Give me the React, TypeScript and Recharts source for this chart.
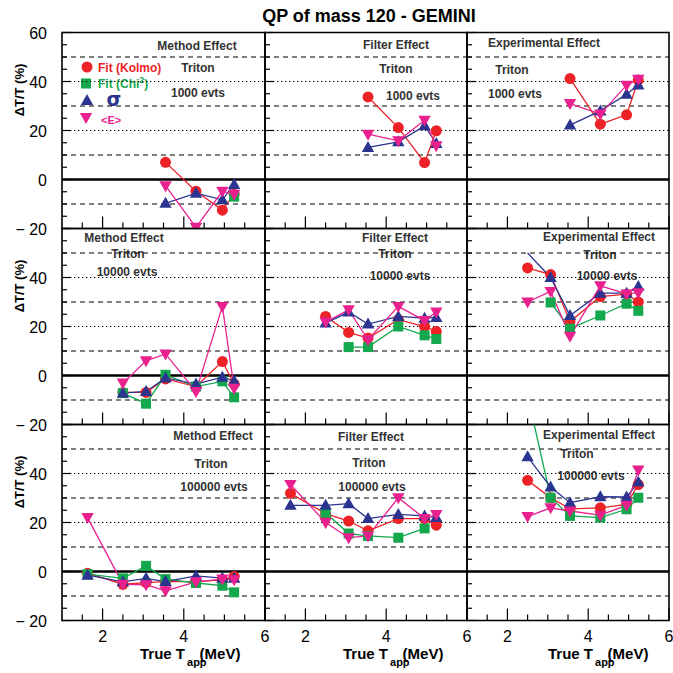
import React from 'react';
import { LineChart, Line, XAxis, YAxis, ReferenceLine, ReferenceArea } from 'recharts';

// ---------- data ----------
const tApp = [1.63, 2.5, 3.07, 3.55, 4.3, 4.95, 5.24];
const xTicks = [1.5, 2, 2.5, 3, 3.5, 4, 4.5, 5, 5.5, 6];
const xTickLabels = [2, 4, 6];
const yTicks = [-20, -15, -10, -5, 0, 5, 10, 15, 20, 25, 30, 35, 40, 45, 50, 55, 60];
const yLabelsTop = [60, 40, 20, 0, -20];
const yLabelsLower = [40, 20, 0, -20];
const dashedLevels = [50, 30, 10, -10];
const dottedLevels = [40, 20];

// 1000 evts
const method1kKolmo = [null, null, null, 7.0, -4.8, -12.5, -6.0];
const method1kChi2 = [null, null, null, null, null, null, -7.0];
const method1kSigma = [null, null, null, -9.7, -5.6, -8.3, -2.0];
const method1kMeanE = [null, null, null, -2.5, -19.5, -4.8, -6.0];

const filter1kKolmo = [null, null, null, 33.7, 21.2, 6.9, 19.9];
const filter1kChi2 = [null, null, null, null, null, null, null];
const filter1kSigma = [null, null, null, 13.1, 15.4, 21.9, 14.7];
const filter1kMeanE = [null, null, null, 18.5, 15.8, 24.2, 13.8];

const exp1kKolmo = [null, null, null, 41.2, 22.6, 26.4, 40.6];
const exp1kChi2 = [null, null, null, null, null, null, null];
const exp1kSigma = [null, null, null, 22.2, 28.0, 34.8, 38.6];
const exp1kMeanE = [null, null, null, 31.0, 26.7, 38.5, 40.9];

// 10000 evts
const method10kKolmo = [null, -6.9, -6.9, -1.4, -4.5, 5.7, -3.5];
const method10kChi2 = [null, -7.2, -11.5, 0.3, -4.5, -2.4, -8.9];
const method10kSigma = [null, -7.2, -6.5, -1.0, -3.5, -0.7, -2.2];
const method10kMeanE = [null, -3.1, 6.0, 8.8, -6.5, 28.2, -5.2];

const filter10kKolmo = [null, 24.1, 17.6, 15.3, 22.8, 20.0, 18.0];
const filter10kChi2 = [null, null, 11.6, 11.6, 20.0, 16.4, 14.9];
const filter10kSigma = [null, 21.4, 25.9, 21.0, 24.1, 23.4, 23.7];
const filter10kMeanE = [null, 21.8, 26.8, 14.6, 28.2, 22.4, 25.9];

const exp10kKolmo = [null, 43.9, 41.2, 22.0, 32.2, 33.2, 30.0];
const exp10kChi2 = [null, null, 29.8, 19.1, 24.5, 29.3, 26.4];
const exp10kSigma = [null, 50.0, 40.0, 24.5, 33.6, 33.6, 36.3];
const exp10kSigmaNoMarker = [1];
const exp10kMeanE = [null, 30.0, 34.3, 16.0, 36.6, 33.3, 33.8];

// 100000 evts
const method100kKolmo = [-0.7, -5.2, -4.5, -4.1, -4.1, -3.4, -2.0];
const method100kChi2 = [-1.1, -2.8, 2.3, -3.1, -4.7, -5.8, -8.5];
const method100kSigma = [-1.5, -4.2, -2.8, -4.1, -1.8, -2.7, -2.8];
const method100kMeanE = [22.0, -5.2, -5.4, -7.9, -4.2, -3.1, -3.4];

const filter100kKolmo = [31.9, 23.6, 20.6, 16.6, 21.6, 21.6, 18.9];
const filter100kChi2 = [null, 24.0, 15.5, 14.5, 13.8, 17.6, null];
const filter100kSigma = [27.0, 27.0, 27.7, 21.6, 23.3, 22.7, 22.0];
const filter100kMeanE = [35.5, 20.0, 13.8, 14.5, 30.1, 21.6, 23.3];

const exp100kKolmo = [null, 37.2, 30.1, 25.6, 26.0, 27.4, 35.5];
const exp100kChi2 = [null, 72.0, 30.1, 22.7, 22.0, 25.4, 30.1];
const exp100kSigma = [null, 46.8, 34.5, 28.1, 30.5, 30.4, 36.5];
const exp100kMeanE = [null, 22.4, 26.0, 24.7, 23.0, 27.0, 41.4];

// ---------- styling ----------
const RED = '#ec2227';
const GREEN = '#13a84d';
const BLUE = '#2b3590';
const MAGENTA = '#e8218f';
const TEXT = '#333';
const FONT = '"Liberation Sans", Arial, Helvetica, sans-serif';

const seriesMeta = [
  { key: 'kolmo', color: RED, shape: 'circle' },
  { key: 'chi2', color: GREEN, shape: 'square' },
  { key: 'sigma', color: BLUE, shape: 'triangle' },
  { key: 'meanE', color: MAGENTA, shape: 'invtriangle' },
];

const colLeft = [62, 265, 467];
const colWidth = [203, 202, 202];
const rowTop = [32.5, 228.5, 424.5];
const rowHeight = 196;
const X_MIN = 1;
const X_MAX = 6;
const Y_MIN = -20;
const Y_MAX = 60;

type Pt = { x: number; y: number; hide: boolean };
const toPts = (ys: (number | null)[], hidden: number[] = []): Pt[] =>
  tApp
    .map((x, i) => ({ x, y: ys[i] as number, hide: hidden.includes(i) }))
    .filter((p) => p.y !== null && p.y !== undefined);

function marker(shape: string, color: string, cx: number, cy: number, key?: string) {
  switch (shape) {
    case 'circle':
      return <circle key={key} cx={cx} cy={cy} r={5.5} fill={color} />;
    case 'square':
      return <rect key={key} x={cx - 5} y={cy - 5} width={10} height={10} fill={color} />;
    case 'triangle':
      return (
        <polygon key={key} points={`${cx},${cy - 6.5} ${cx - 6.2},${cy + 4.5} ${cx + 6.2},${cy + 4.5}`} fill={color} />
      );
    default:
      return (
        <polygon key={key} points={`${cx},${cy + 6.5} ${cx - 6.2},${cy - 4.5} ${cx + 6.2},${cy - 4.5}`} fill={color} />
      );
  }
}

const makeDot = (shape: string, color: string) => (props: any) => {
  const { cx, cy, payload, index } = props;
  const key = `dot-${index}`;
  if (cx == null || cy == null || (payload && payload.hide)) return <g key={key} />;
  return marker(shape, color, cx, cy, key);
};

const makeXTick = (showLabels: boolean) => (props: any) => {
  const { x, y, payload } = props;
  const v = payload.value;
  const major = xTickLabels.includes(v);
  return (
    <g>
      {major && showLabels && (
        <text x={x} y={y + 21} textAnchor="middle" fontSize={16} fontFamily={FONT} fill="#000">
          {v}
        </text>
      )}
    </g>
  );
};

const makeYTick = (labels: number[] | null) => (props: any) => {
  const { x, y, payload } = props;
  const v = payload.value;
  const show = labels && labels.includes(v);
  return (
    <g>
      {show && (
        <text x={x - 15} y={y + 6} textAnchor="end" fontSize={16} fontFamily={FONT} fill="#000">
          {v < 0 ? `\u2212 ${Math.abs(v)}` : `${v}`}
        </text>
      )}
    </g>
  );
};

type PanelDef = {
  row: number;
  col: number;
  data: { kolmo: (number | null)[]; chi2: (number | null)[]; sigma: (number | null)[]; meanE: (number | null)[] };
  hidden?: { [k: string]: number[] };
};

const panels: PanelDef[] = [
  { row: 0, col: 0, data: { kolmo: method1kKolmo, chi2: method1kChi2, sigma: method1kSigma, meanE: method1kMeanE } },
  { row: 0, col: 1, data: { kolmo: filter1kKolmo, chi2: filter1kChi2, sigma: filter1kSigma, meanE: filter1kMeanE } },
  { row: 0, col: 2, data: { kolmo: exp1kKolmo, chi2: exp1kChi2, sigma: exp1kSigma, meanE: exp1kMeanE } },
  { row: 1, col: 0, data: { kolmo: method10kKolmo, chi2: method10kChi2, sigma: method10kSigma, meanE: method10kMeanE } },
  { row: 1, col: 1, data: { kolmo: filter10kKolmo, chi2: filter10kChi2, sigma: filter10kSigma, meanE: filter10kMeanE } },
  {
    row: 1,
    col: 2,
    data: { kolmo: exp10kKolmo, chi2: exp10kChi2, sigma: exp10kSigma, meanE: exp10kMeanE },
    hidden: { sigma: exp10kSigmaNoMarker },
  },
  { row: 2, col: 0, data: { kolmo: method100kKolmo, chi2: method100kChi2, sigma: method100kSigma, meanE: method100kMeanE } },
  { row: 2, col: 1, data: { kolmo: filter100kKolmo, chi2: filter100kChi2, sigma: filter100kSigma, meanE: filter100kMeanE } },
  { row: 2, col: 2, data: { kolmo: exp100kKolmo, chi2: exp100kChi2, sigma: exp100kSigma, meanE: exp100kMeanE } },
];

function Panel({ def }: { def: PanelDef }) {
  const left = colLeft[def.col];
  const width = colWidth[def.col];
  const top = rowTop[def.row];
  const height = rowHeight;
  const yLabels = def.col === 0 ? (def.row === 0 ? yLabelsTop : yLabelsLower) : null;
  const showXLabels = def.row === 2;
  return (
    <div style={{ position: 'absolute', left: 0, top: 0 }}>
      <LineChart
        width={673}
        height={673}
        margin={{ top, left: left - 1, right: 673 - left - width, bottom: 673 - top - height - 1 }}
      >
        <XAxis
          type="number"
          dataKey="x"
          domain={[X_MIN, X_MAX]}
          ticks={xTicks}
          interval={0}
          allowDataOverflow
          height={1}
          tickSize={0}
          tickMargin={0}
          axisLine={false}
          tickLine={false}
          tick={makeXTick(showXLabels)}
        />
        <YAxis
          type="number"
          domain={[Y_MIN, Y_MAX]}
          ticks={yTicks}
          interval={0}
          allowDataOverflow
          width={1}
          tickSize={0}
          tickMargin={0}
          axisLine={false}
          tickLine={false}
          tick={makeYTick(yLabels)}
        />
        {dashedLevels.map((v) => (
          <ReferenceLine key={`da${v}`} y={v} stroke="#000" strokeWidth={1} strokeDasharray="5 4" />
        ))}
        {dottedLevels.map((v) => (
          <ReferenceLine key={`do${v}`} y={v} stroke="#000" strokeWidth={1.2} strokeDasharray="1.3 2.7" />
        ))}
        <ReferenceLine y={0} stroke="#000" strokeWidth={2.6} />
        <ReferenceArea x1={X_MIN} x2={X_MAX} y1={Y_MIN} y2={Y_MAX} fill="none" fillOpacity={0} stroke="#000" strokeWidth={1.6} />
        {seriesMeta.map((s) => {
          const pts = toPts((def.data as any)[s.key], def.hidden ? def.hidden[s.key] || [] : []);
          if (pts.length === 0) return null;
          return (
            <Line
              key={s.key}
              data={pts}
              dataKey="y"
              type="linear"
              stroke={s.color}
              strokeWidth={1.3}
              dot={makeDot(s.shape, s.color)}
              activeDot={false}
              isAnimationActive={false}
              connectNulls
            />
          );
        })}
      </LineChart>
    </div>
  );
}

// tick marks of every panel frame (same linear mapping as the panel axes)
function TickMarks() {
  const items: React.ReactNode[] = [];
  for (let r = 0; r < 3; r++) {
    for (let c = 0; c < 3; c++) {
      const left = colLeft[c];
      const width = colWidth[c];
      const top = rowTop[r];
      const bottom = top + rowHeight;
      xTicks.forEach((v) => {
        const px = left + ((v - X_MIN) / (X_MAX - X_MIN)) * width;
        const len = xTickLabels.includes(v) ? 12 : 6;
        items.push(<line key={`x${r}${c}${v}`} x1={px} x2={px} y1={bottom} y2={bottom - len} stroke="#000" strokeWidth={1.2} />);
      });
      yTicks.forEach((v) => {
        const py = top + ((Y_MAX - v) / (Y_MAX - Y_MIN)) * rowHeight;
        const len = v % 20 === 0 ? 9 : 5;
        items.push(<line key={`y${r}${c}${v}`} x1={left} x2={left + len} y1={py} y2={py} stroke="#000" strokeWidth={1.2} />);
      });
    }
  }
  return (
    <svg width={673} height={673} style={{ position: 'absolute', left: 0, top: 0, pointerEvents: 'none' }}>
      {items}
    </svg>
  );
}

type Note = { t: string; x: number; y: number };
const notes: Note[] = [
  { t: 'Method Effect', x: 197, y: 50 },
  { t: 'Triton', x: 198, y: 72 },
  { t: '1000 evts', x: 198, y: 97 },
  { t: 'Filter Effect', x: 396, y: 49 },
  { t: 'Triton', x: 396, y: 73 },
  { t: '1000 evts', x: 413, y: 100 },
  { t: 'Experimental Effect', x: 544, y: 47 },
  { t: 'Triton', x: 512, y: 74 },
  { t: '1000 evts', x: 515, y: 98 },
  { t: 'Method Effect', x: 124, y: 242 },
  { t: 'Triton', x: 128, y: 258 },
  { t: '10000 evts', x: 127, y: 276 },
  { t: 'Filter Effect', x: 395, y: 242 },
  { t: 'Triton', x: 395, y: 258 },
  { t: '10000 evts', x: 400, y: 280 },
  { t: 'Experimental Effect', x: 599, y: 241 },
  { t: 'Triton', x: 600, y: 259 },
  { t: '10000 evts', x: 607, y: 280 },
  { t: 'Method Effect', x: 213, y: 440 },
  { t: 'Triton', x: 211, y: 468 },
  { t: '100000 evts', x: 214, y: 491 },
  { t: 'Filter Effect', x: 371, y: 441 },
  { t: 'Triton', x: 369, y: 467 },
  { t: '100000 evts', x: 372, y: 491 },
  { t: 'Experimental Effect', x: 599, y: 439 },
  { t: 'Triton', x: 577, y: 458 },
  { t: '100000 evts', x: 591, y: 480 },
];

const yTitleCenters = [90, 286, 482];
const xTitleStarts = [140, 343, 548];

function Overlay() {
  return (
    <svg width={673} height={673} style={{ position: 'absolute', left: 0, top: 0 }} fontFamily={FONT}>
      <text x={369} y={22} textAnchor="middle" fontSize={18} fontWeight="bold" fill="#000">
        QP of mass 120 - GEMINI
      </text>
      {notes.map((n, i) => (
        <text key={i} x={n.x} y={n.y} textAnchor="middle" fontSize={12} fontWeight="bold" fill={TEXT}>
          {n.t}
        </text>
      ))}
      {/* legend */}
      {marker('circle', RED, 87, 67)}
      <text x={98} y={71.5} fontSize={12} fontWeight="bold" fill={RED}>
        Fit (Kolmo)
      </text>
      {marker('square', GREEN, 86, 83.5)}
      <text x={98} y={88} fontSize={12} fontWeight="bold" fill={GREEN}>
        Fit (Chi
        <tspan dy={-5} fontSize={9}>
          2
        </tspan>
        <tspan dy={5}>)</tspan>
      </text>
      {marker('triangle', BLUE, 87, 100.5)}
      <text x={114} y={105.5} textAnchor="middle" fontSize={19} fontWeight="bold" fill={BLUE} fontFamily='"DejaVu Sans", sans-serif'>
        σ
      </text>
      {marker('invtriangle', MAGENTA, 86, 117.5)}
      <text x={101} y={124} fontSize={11} fontWeight="bold" fill={MAGENTA}>
        {'<E>'}
      </text>
      {yTitleCenters.map((cy, i) => (
        <text
          key={`yt${i}`}
          x={24}
          y={cy}
          transform={`rotate(-90, 24, ${cy})`}
          textAnchor="middle"
          fontSize={13}
          fontWeight="bold"
          fill="#000"
        >
          ΔT/T (%)
        </text>
      ))}
      {xTitleStarts.map((x0, i) => (
        <text key={`xt${i}`} x={x0} y={659} fontSize={15} fontWeight="bold" fill="#000">
          True T
          <tspan dx={2} dy={7} fontSize={11}>
            app
          </tspan>
          <tspan dx={-7} dy={-7}>
            (MeV)
          </tspan>
        </text>
      ))}
    </svg>
  );
}

export default function App() {
  return (
    <div style={{ position: 'absolute', left: 0, top: 0, width: 673, height: 673, background: '#fff', overflow: 'hidden' }}>
      <Overlay />
      {panels.map((p, i) => (
        <Panel key={i} def={p} />
      ))}
      <TickMarks />
    </div>
  );
}
